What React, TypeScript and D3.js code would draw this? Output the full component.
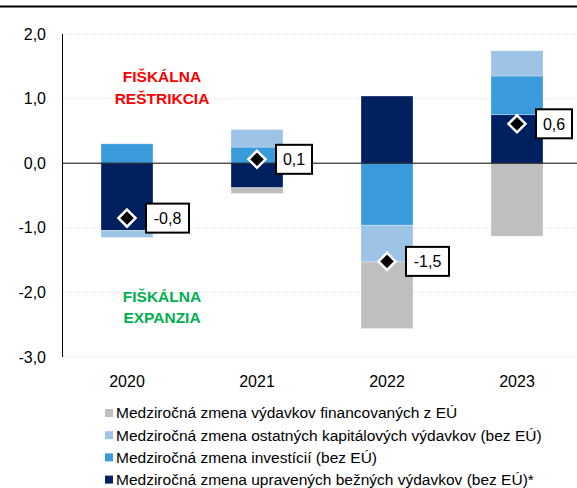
import * as d3 from 'd3';
import React from 'react';

const years = ['2020', '2021', '2022', '2023'];
// stacked outward from zero in this order
const current = [-1.04, -0.38, 1.04, 0.75];
const investments = [0.3, 0.25, -0.96, 0.6];
const otherCapital = [-0.11, 0.27, -0.57, 0.39];
const euFunded = [0, -0.09, -1.03, -1.13];
const totals = [-0.85, 0.06, -1.52, 0.61];
const totalLabels = ['-0,8', '0,1', '-1,5', '0,6'];
const yTicks = [2, 1, 0, -1, -2, -3];

const series = [
  { key: 'current', values: current, color: '#002060', label: 'Medziročná zmena upravených bežných výdavkov (bez EÚ)*' },
  { key: 'investments', values: investments, color: '#3A9BDC', label: 'Medziročná zmena investícií (bez EÚ)' },
  { key: 'other', values: otherCapital, color: '#9DC3E6', label: 'Medziročná zmena ostatných kapitálových výdavkov (bez EÚ)' },
  { key: 'eu', values: euFunded, color: '#BFBFBF', label: 'Medziročná zmena výdavkov financovaných z EÚ' },
];

const width = 577;
const height = 488;
const font = '"Liberation Sans", Arial, sans-serif';

export default function App() {
  const x = d3.scaleBand().domain(years).range([62, 582]).paddingInner(0.6).paddingOuter(0.3);
  const y = d3.scaleLinear().domain([-3, 2]).range([357, 34]);

  const table = years.map((yr, i) => {
    const row: any = { year: yr };
    series.forEach((s) => { row[s.key] = s.values[i]; });
    return row;
  });
  const stacked = d3.stack<any>()
    .keys(series.map((s) => s.key))
    .offset(d3.stackOffsetDiverging)(table);

  const legendRows = series.slice().reverse();
  const diamond = d3.symbol().type(d3.symbolDiamond2).size(185)();

  return (
    <svg width={width} height={height} style={{ position: 'absolute', left: 0, top: 0, fontFamily: font }}>
      <rect width={width} height={height} fill="#fff" />
      <line x1={0} x2={width} y1={6.5} y2={6.5} stroke="#000" strokeWidth={2} />

      {yTicks.filter((t) => t !== 0).map((t) => (
        <line key={'g' + t} x1={62} x2={582} y1={y(t)} y2={y(t)} stroke="#e6e6e6" strokeWidth={1} strokeDasharray="2,2" />
      ))}

      {stacked.map((layer, li) => (
        <g key={layer.key} fill={series[li].color}>
          {layer.map((d, i) => {
            if (d[0] === d[1]) return null;
            const top = y(Math.max(d[0], d[1]));
            const bot = y(Math.min(d[0], d[1]));
            return (
              <rect key={i} x={x(years[i])} y={top} width={x.bandwidth()} height={bot - top}
                stroke="#fff" strokeOpacity={0.5} strokeWidth={0.6} />
            );
          })}
        </g>
      ))}

      <line x1={62.5} x2={62.5} y1={y(2)} y2={y(-3)} stroke="#000" strokeWidth={1} />
      <line x1={62} x2={width} y1={y(0)} y2={y(0)} stroke="#000" strokeWidth={1} />

      {yTicks.map((t) => (
        <text key={'t' + t} x={46} y={y(t)} dy="0.35em" textAnchor="end" fontSize={16} fill="#000">
          {d3.format('.1f')(t).replace('.', ',').replace('−', '-')}
        </text>
      ))}

      {years.map((yr) => (
        <text key={yr} x={x(yr)! + x.bandwidth() / 2} y={387} textAnchor="middle" fontSize={16} fill="#000">{yr}</text>
      ))}

      {totals.map((v, i) => {
        const cx = x(years[i])! + x.bandwidth() / 2;
        const cy = y(v);
        const w = totalLabels[i].length > 3 ? 43 : 36;
        return (
          <g key={'m' + i}>
            <path d={diamond} transform={`translate(${cx},${cy})`} fill="#000" stroke="#fff" strokeWidth={2.5} />
            <rect x={cx + 19} y={cy - 14.5} width={w} height={29} fill="#fff" stroke="#000" strokeWidth={2} />
            <text x={cx + 19 + w / 2} y={cy} dy="0.36em" textAnchor="middle" fontSize={16} fill="#000">{totalLabels[i]}</text>
          </g>
        );
      })}

      <g fontWeight="bold" fontSize={15.5} textAnchor="middle">
        <text x={162} y={82} fill="#FF0000">FIŠKÁLNA</text>
        <text x={162} y={104} fill="#FF0000">REŠTRIKCIA</text>
        <text x={162} y={302} fill="#00B050">FIŠKÁLNA</text>
        <text x={162} y={323} fill="#00B050">EXPANZIA</text>
      </g>

      {legendRows.map((s, i) => {
        const ly = 413 + i * 22.2;
        return (
          <g key={'l' + s.key}>
            <rect x={105} y={ly - 4} width={8} height={8} fill={s.color} />
            <text x={116} y={ly} dy="0.35em" fontSize={15.5} fill="#000">{s.label}</text>
          </g>
        );
      })}
    </svg>
  );
}
